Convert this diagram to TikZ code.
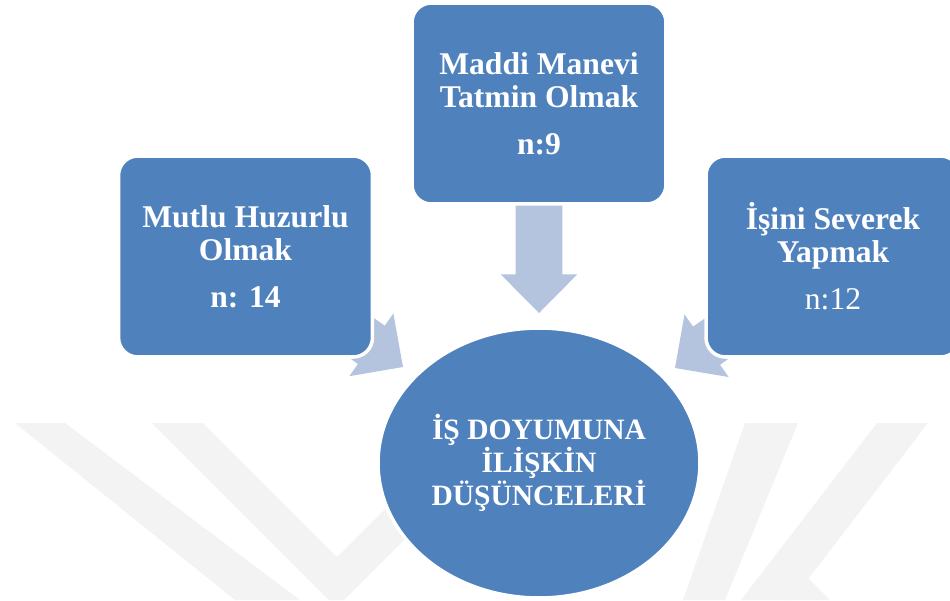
\documentclass[tikz,border=0pt]{standalone}
\usepackage{fontspec}
\setmainfont{Liberation Serif}
\usetikzlibrary{calc,shapes.geometric}
\definecolor{kutumavi}{HTML}{4F81BD}
\definecolor{okmavi}{HTML}{B4C3DE}
\definecolor{filigran}{HTML}{F3F3F3}
\pgfdeclarelayer{arka}
\pgfsetlayers{arka,main}
\tikzset{
  kutu/.style={draw=white, line width=2pt, fill=kutumavi, rounded corners=11pt,
    minimum width=5.08cm, minimum height=4.02cm, inner sep=0pt, align=center,
    text=white, font=\bfseries\fontsize{18}{18.7}\selectfont},
  merkez/.style={ellipse, draw=white, line width=2pt, fill=kutumavi,
    minimum width=6.44cm, minimum height=5.4cm, inner sep=0pt, align=center,
    text=white, font=\bfseries\fontsize{16.8}{17.6}\selectfont},
  okrenk/.style={fill=okmavi},
}
\newcommand{\blokok}[2]{%
  \coordinate (ob) at ($(#2)!22pt!(#1)$);
  \fill[okrenk] ($(#1)!13.3pt!90:(#2)$) -- ($(ob)!13.3pt!90:(#2)$) -- ($(ob)!21.8pt!90:(#2)$) -- (#2)
    -- ($(ob)!21.8pt!-90:(#2)$) -- ($(ob)!13.3pt!-90:(#2)$) -- ($(#1)!13.3pt!-90:(#2)$) -- cycle;
}

\begin{document}
\begin{tikzpicture}[x=0.02cm, y=-0.02cm]
    \useasboundingbox (0,0) rectangle (950,600);
    \clip (0,0) rectangle (950,600);
    \node[kutu] (mutlu) at (245.5,256.5) {Mutlu Huzurlu\\Olmak\\[8pt]n: 14};
    \node[kutu] (maddi) at (539,103.5) {Maddi Manevi\\Tatmin Olmak\\[8pt]n:9};
    \node[kutu] (isini) at (833,256.5) {İşini Severek\\Yapmak\\[8pt]{\mdseries n:12}};
    \node[merkez] (doyum) at (539,463) {İŞ DOYUMUNA\\İLİŞKİN\\DÜŞÜNCELERİ};
    \coordinate (ucsol) at (403,367);
    \coordinate (ucust) at (539,313);
    \coordinate (ucsag) at (675,368);
    \begin{pgfonlayer}{arka}
        \fill[filigran] (15,423) -- (65,423) -- (300,600) -- (235,600) -- cycle;
        \fill[filigran] (152,423) -- (203,423) -- (337,557) -- (400,494) -- (430,514) -- (344,600) -- (329,600) -- cycle;
        \fill[filigran] (745,423) -- (798,423) -- (725,600) -- (683,600) -- cycle;
        \fill[filigran] (877,423) -- (928,423) -- (792,600) -- (741,600) -- cycle;
        \fill[filigran] (760,575) -- (790,560) -- (830,600) -- (785,600) -- cycle;
        \blokok{mutlu.center}{ucsol}
        \blokok{maddi.center}{ucust}
        \blokok{isini.center}{ucsag}
    \end{pgfonlayer}
\end{tikzpicture}
\end{document}
